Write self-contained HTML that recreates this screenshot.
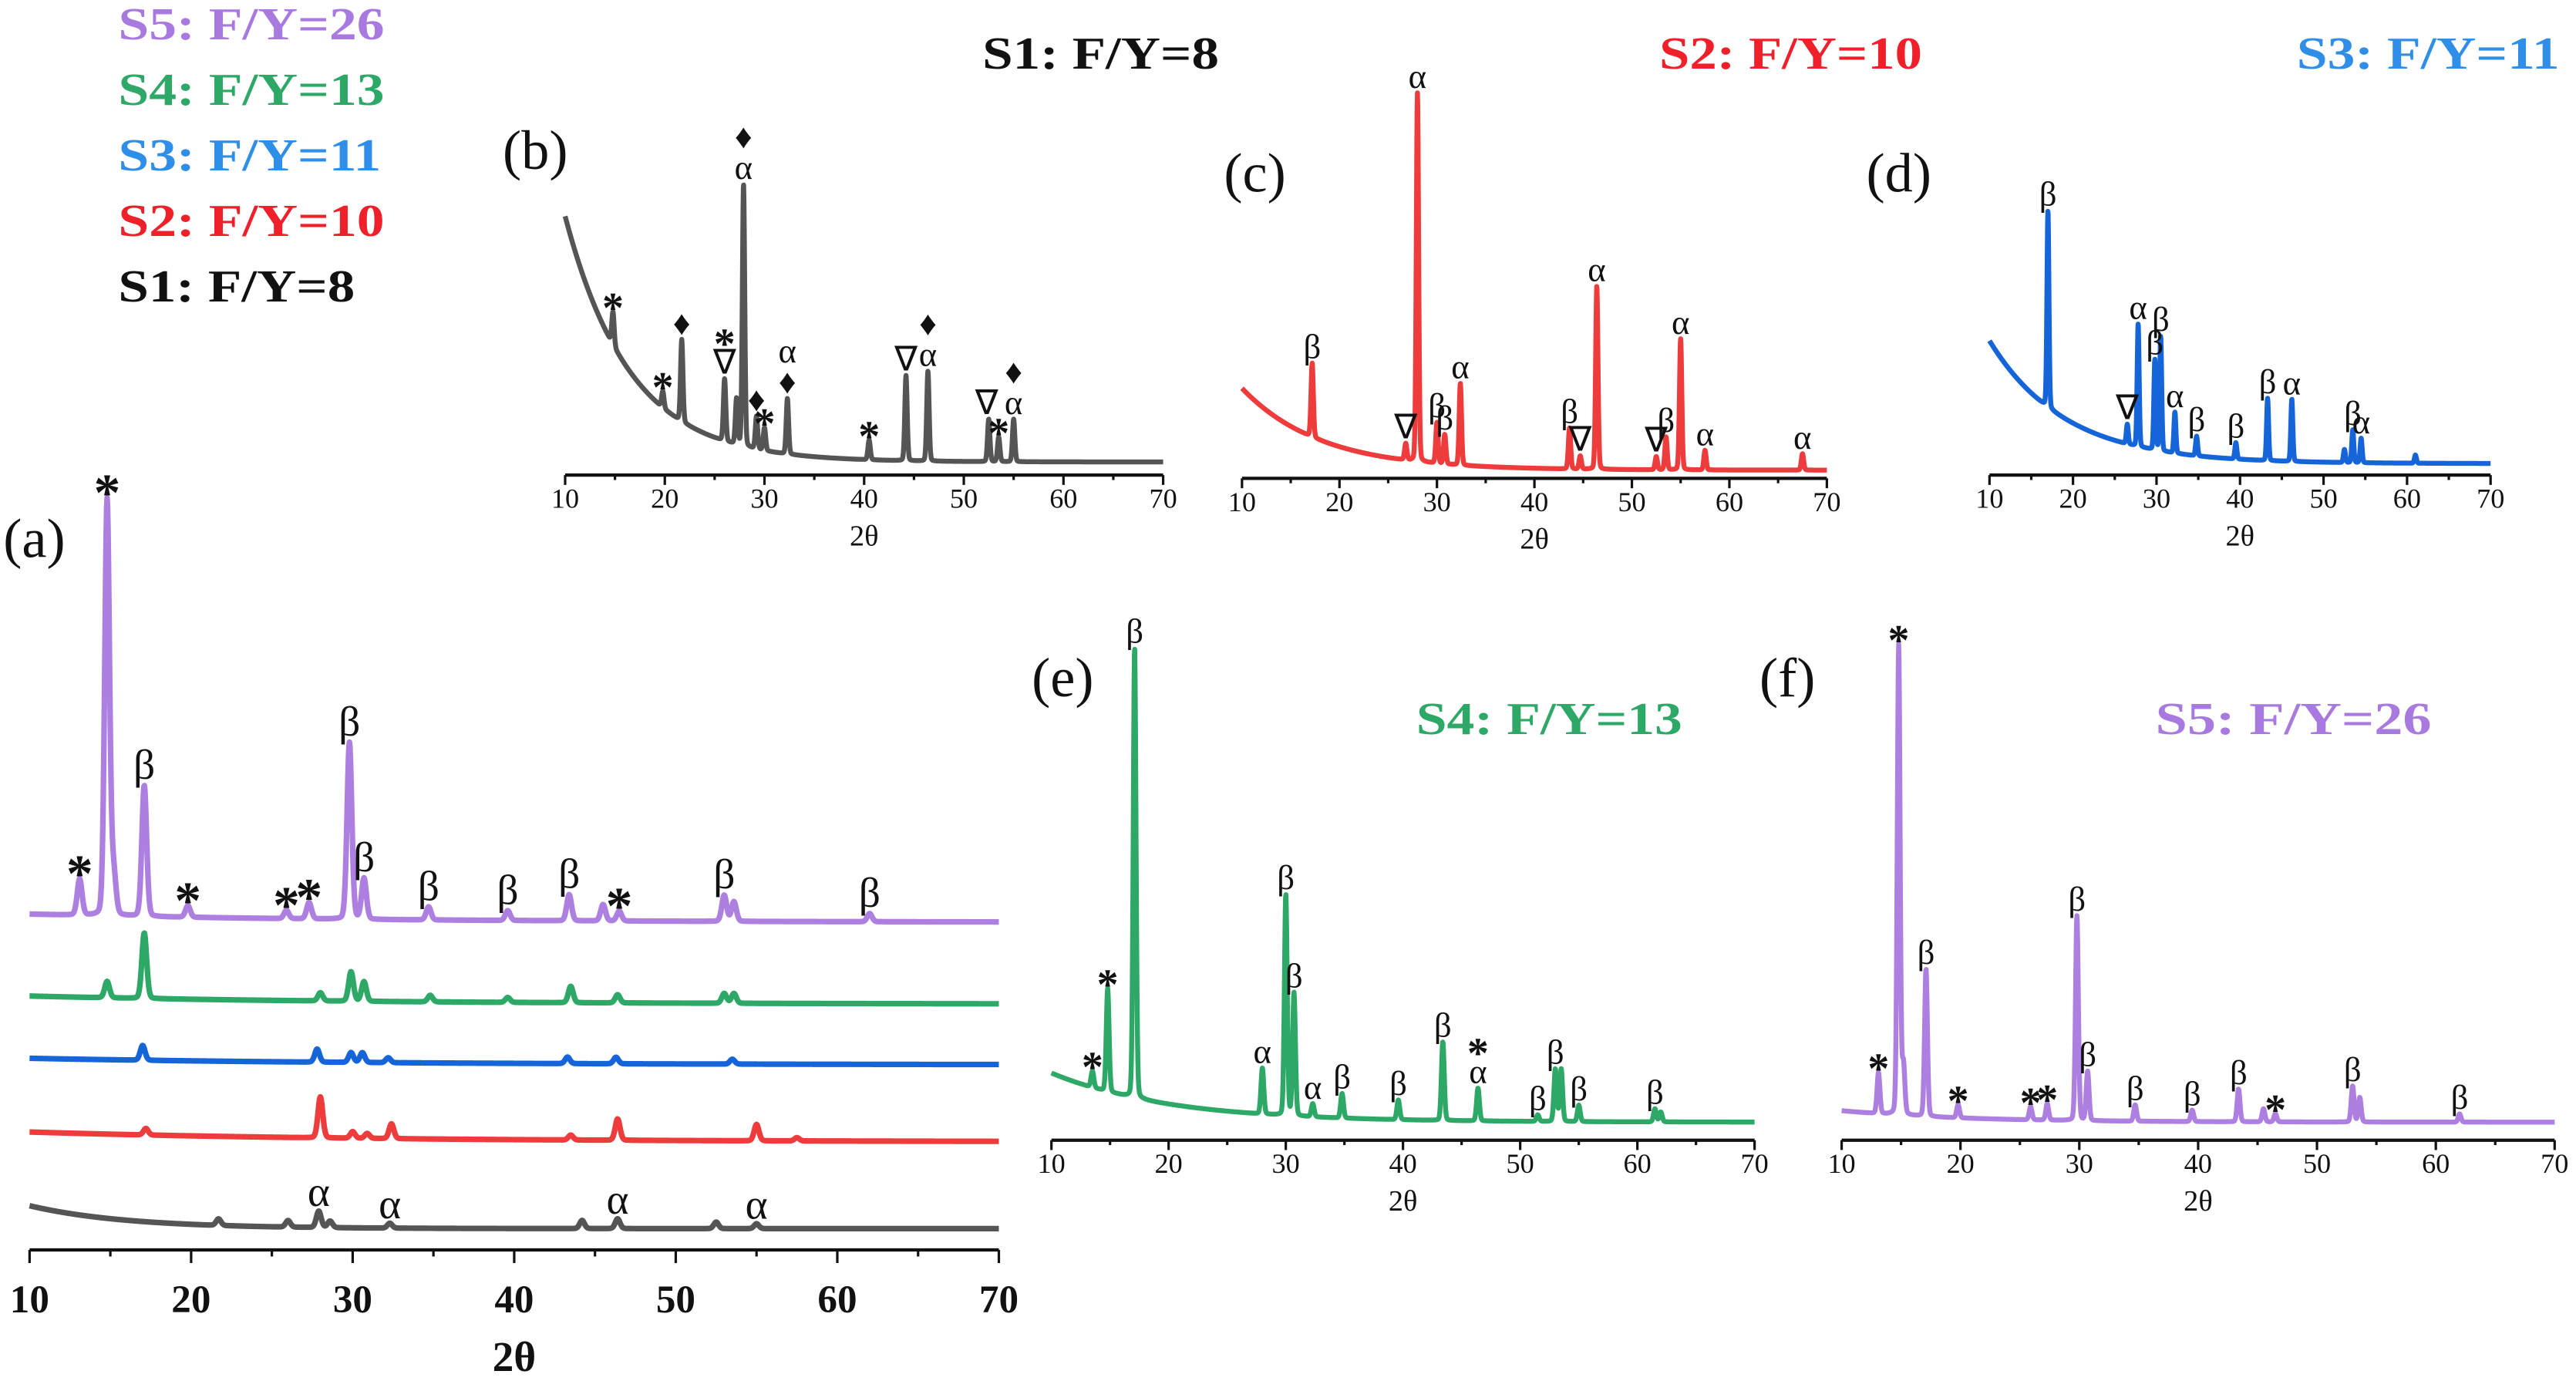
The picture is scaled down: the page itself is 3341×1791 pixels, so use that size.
<!DOCTYPE html>
<html><head><meta charset="utf-8"><style>
html,body{margin:0;padding:0;background:#fff}
svg{display:block}
text{font-family:"Liberation Serif",serif}
</style></head><body>
<svg id="fig" width="3341" height="1791" viewBox="0 0 1568 843" preserveAspectRatio="none" xmlns="http://www.w3.org/2000/svg">
<g font-weight="bold" font-size="28">
<text x="72" y="24" fill="#a87ae0" textLength="162" lengthAdjust="spacingAndGlyphs">S5: F/Y=26</text>
<text x="72" y="64" fill="#2ea866" textLength="162" lengthAdjust="spacingAndGlyphs">S4: F/Y=13</text>
<text x="72" y="104" fill="#2f8ee8" textLength="160" lengthAdjust="spacingAndGlyphs">S3: F/Y=11</text>
<text x="72" y="144" fill="#f0202a" textLength="162" lengthAdjust="spacingAndGlyphs">S2: F/Y=10</text>
<text x="72" y="184" fill="#111" textLength="144" lengthAdjust="spacingAndGlyphs">S1: F/Y=8</text>
</g>
<g font-weight="bold" font-size="28">
<text x="598" y="42" fill="#111" textLength="144" lengthAdjust="spacingAndGlyphs">S1: F/Y=8</text>
<text x="1010" y="42" fill="#f0202a" textLength="160" lengthAdjust="spacingAndGlyphs">S2: F/Y=10</text>
<text x="1398" y="42" fill="#2f8ee8" textLength="160" lengthAdjust="spacingAndGlyphs">S3: F/Y=11</text>
<text x="862" y="448" fill="#2ea866" textLength="162" lengthAdjust="spacingAndGlyphs">S4: F/Y=13</text>
<text x="1312" y="448" fill="#a87ae0" textLength="168" lengthAdjust="spacingAndGlyphs">S5: F/Y=26</text>
</g>
<g font-size="34" fill="#111">
<text x="2" y="340">(a)</text>
<text x="306" y="103">(b)</text>
<text x="745" y="117">(c)</text>
<text x="1136" y="117">(d)</text>
<text x="628" y="425">(e)</text>
<text x="1071" y="425">(f)</text>
</g>
<g id="plots"></g>
</svg>
<script>
// ---- data (peak positions in 2θ, heights in intensity units) ----
const bPeaks=[14.8,19.8,21.7,26,27.2,27.9,29.2,30,32.3,40.5,44.2,46.4,52.5,53.5,55];
const bHeights=[20,10,50,38,28,160,20,14,34,12,52,55,26,15,26];
const bBg=[8,150,6.5];
const bLabAng=[14.8,19.8,21.7,26,27.9,29.2,30,32.3,40.5,44.2,46.4,52.3,53.5,55];
const bLabTxt=["*","*","♦","*|∇","♦|α","♦","*","α|♦","*","∇","♦|α","∇","*","♦|α"];

const cPeaks=[17.2,26.8,28,30,30.8,32.4,43.6,44.7,46.4,52.5,53.5,55,57.5,67.5];
const cHeights=[45,10,225,25,18,50,25,8,112,8,20,80,12,10];
const cBg=[5,50,8];
const cLabAng=[17.2,26.8,28,30,30.8,32.4,43.6,44.7,46.4,52.5,53.5,55,57.5,67.5];
const cLabTxt=["β","∇","α","β","β","α","β","∇","α","∇","β","α","α","α"];

const dPeaks=[17,26.5,27.8,29.8,30.5,32.2,34.8,39.5,43.3,46.2,52.5,53.5,54.5,61];
const dHeights=[120,12,75,55,70,25,12,10,38,38,8,20,15,5];
const dBg=[7,75,9];
const dLabAng=[17,26.5,27.8,29.8,30.5,32.2,34.8,39.5,43.3,46.2,53.5,54.5];
const dLabTxt=["β","∇","α","β","β","α","β","β","β","α","β","α"];

const ePeaks=[13.5,14.8,17.1,28,30,30.7,32.3,34.8,39.6,43.4,46.4,51.5,53,53.5,55,61.5,62];
const eHeights=[10,63,275,28,135,75,8,15,12,48,20,4,32,32,10,8,6];
const eBg=[11,30,10];
const eLabAng=[13.5,14.8,17.1,28,30,30.7,32.3,34.8,39.6,43.4,46.4,51.5,53,55,61.5];
const eLabTxt=["*","*","β","α","β","β","α","β","β","β","*|α","β","β","β","β"];

const fPeaks=[13.1,14.8,15.2,17.1,19.8,25.9,27.3,29.8,30.7,34.7,39.5,43.4,45.5,46.5,53,53.6,62];
const fHeights=[25,287,30,90,8,8,10,125,30,10,7,20,8,5,22,15,5];
const fBg=[11,7,10];
const fLabAng=[13.1,14.8,17.1,19.8,25.9,27.3,29.8,30.7,34.7,39.5,43.4,46.5,53,62];
const fLabTxt=["*","*","β","*","*","*","β","β","β","β","β","*","β","β"];

// panel (a) stacked
const s5Peaks=[13.1,14.8,15.2,17.1,19.8,25.9,27.3,29.8,30.7,34.7,39.6,43.4,45.5,46.5,53,53.6,62];
const s5Heights=[22,254,25,80,7,5,10,108,25,8,6,16,10,6,16,12,5];
const s4Peaks=[14.8,17.1,28,29.9,30.7,34.8,39.6,43.5,46.4,53,53.6];
const s4Heights=[10,40,5,18,12,4,3,10,5,6,6];
const s3Peaks=[17,27.8,29.9,30.6,32.2,43.3,46.3,53.5];
const s3Heights=[9,8,6,6,3,4,4,3];
const s2Peaks=[17.2,28,30,30.9,32.4,43.5,46.4,55,57.5];
const s2Heights=[4,25,4,3,9,3,13,10,2];
const s1Peaks=[21.7,26,27.9,28.6,32.3,44.2,46.4,52.5,55];
const s1Heights=[4,4,10,4,3,5,6,4,3];
const aBase=[200,150,113,66,13];
const aBgA=[5,5,4,6,14];
const aBgTau=[20,20,20,20,6];
const s5LabAng=[13.1,14.8,17.1,19.8,25.9,27.3,29.8,30.7,34.7,39.6,43.4,46.5,53,62];
const s5LabTxt=["*","*","β","*","*","*","β","β","β","β","β","*","β","β"];
const s1LabAng=[27.9,32.3,46.4,55];
const s1LabTxt=["α","α","α","α"];
const xTicks=[10,20,30,40,50,60,70];

const NS="http://www.w3.org/2000/svg";
const root=document.getElementById('plots');
function mk(tag,attrs,parent){const e=document.createElementNS(NS,tag);for(const k in attrs)e.setAttribute(k,attrs[k]);(parent||root).appendChild(e);return e;}

function makeScale(x0,x1){return a=>x0+(a-10)/60*(x1-x0);}
function intensity(a,peaks,heights,bg0,bgA,tau,w){
  let v=bg0+bgA*Math.exp(-(a-10)/tau);
  for(let i=0;i<peaks.length;i++){const d=(a-peaks[i])/w;v+=heights[i]*(0.85*Math.exp(-d*d/2)+0.15/(1+d*d));}
  return v;
}
function drawAxis(g,sx,x0,x1,yA,fs,bold,labY,titleY,name){
  const ax=mk('line',{x1:x0,x2:x1,y1:yA,y2:yA,stroke:'#111','stroke-width':2},g);
  
  
  for(let t=10;t<=70;t+=5){
    const major=t%10===0;
    const tk=mk('line',{x1:sx(t),x2:sx(t),y1:yA,y2:yA+(major?(bold?8:6):(bold?4:3)),stroke:'#111','stroke-width':1.5},g);
    
    
  }
  xTicks.forEach(t=>{
    const tl=mk('text',{x:sx(t),y:labY,'text-anchor':'middle','font-size':fs,'font-weight':bold?'bold':'normal',fill:'#111'},g);
    tl.textContent=t;
    
    
  });
  const tt=mk('text',{x:(x0+x1)/2,y:titleY,'text-anchor':'middle','font-size':bold?26:18,'font-weight':bold?'bold':'normal',fill:'#111'},g);
  tt.textContent='2θ';
  
  
}
function drawTrace(g,sx,yBase,peaks,heights,bg0,bgA,tau,w,color,sw,name){
  let d='';
  for(let a=10;a<=70.0001;a+=0.03){
    const y=yBase-intensity(a,peaks,heights,bg0,bgA,tau,w);
    d+=(d?'L':'M')+sx(a).toFixed(2)+','+y.toFixed(2);
  }
  const p=mk('path',{d:d,fill:'none',stroke:color,'stroke-width':sw,'stroke-linejoin':'round'},g);
  
  
}
function drawLabels(g,sx,yBase,peaks,heights,bg0,bgA,tau,w,angs,txts,fs,gap){
  angs.forEach((a,i)=>{
    let top=0;
    for(let b=a-0.3;b<=a+0.3;b+=0.02)top=Math.max(top,intensity(b,peaks,heights,bg0,bgA,tau,w));
    const parts=txts[i].split('|').reverse();
    parts.forEach((s,j)=>{
      const big=s==='*';
      const t=mk('text',{x:sx(a),y:yBase-top-gap-j*fs*0.9+(big?fs*0.45:0),'text-anchor':'middle','font-size':big?fs*1.25:fs,'font-weight':big?'bold':'normal',fill:'#111'},g);
      t.textContent=s;
      
      
    });
  });
}
function smallPanel(name,x0,x1,yA,peaks,heights,bg,color,labA,labT){
  const g=mk('g',{});
  
  
  const sx=makeScale(x0,x1);
  drawTrace(g,sx,yA,peaks,heights,bg[0],bg[1],bg[2],0.12,color,3,'trace-'+name);
  drawLabels(g,sx,yA,peaks,heights,bg[0],bg[1],bg[2],0.12,labA,labT,21,3);
  drawAxis(g,sx,x0,x1,yA,17,false,yA+20,yA+43,'panel-'+name);
}
smallPanel('b',344,708,290,bPeaks,bHeights,bBg,'#555',bLabAng,bLabTxt);
smallPanel('c',756,1112,292,cPeaks,cHeights,cBg,'#ee3b3b',cLabAng,cLabTxt);
smallPanel('d',1211,1516,290,dPeaks,dHeights,dBg,'#1565d8',dLabAng,dLabTxt);
smallPanel('e',640,1068,696,ePeaks,eHeights,eBg,'#2ea866',eLabAng,eLabTxt);
smallPanel('f',1121,1555,696,fPeaks,fHeights,fBg,'#ad7fe0',fLabAng,fLabTxt);

// panel (a)
(function(){
  const g=mk('g',{});
  
  
  const x0=18,x1=608,yA=763;
  const sx=makeScale(x0,x1);
  const sets=[[s5Peaks,s5Heights,'#ad7fe0','trace-s5'],[s4Peaks,s4Heights,'#2ea866','trace-s4'],[s3Peaks,s3Heights,'#1565d8','trace-s3'],[s2Peaks,s2Heights,'#ee3b3b','trace-s2'],[s1Peaks,s1Heights,'#555','trace-s1']];
  sets.forEach((s,i)=>{
    drawTrace(g,sx,yA,s[0],s[1],aBase[i],aBgA[i],aBgTau[i],0.15,s[2],3.4,s[3]);
  });
  drawLabels(g,sx,yA,s5Peaks,s5Heights,aBase[0],aBgA[0],aBgTau[0],0.15,s5LabAng,s5LabTxt,26,4);
  drawLabels(g,sx,yA,s1Peaks,s1Heights,aBase[4],aBgA[4],aBgTau[4],0.15,s1LabAng,s1LabTxt,26,3);
  drawAxis(g,sx,x0,x1,yA,24,true,yA+38,yA+74,'panel-a');
})();
</script>
</body></html>
